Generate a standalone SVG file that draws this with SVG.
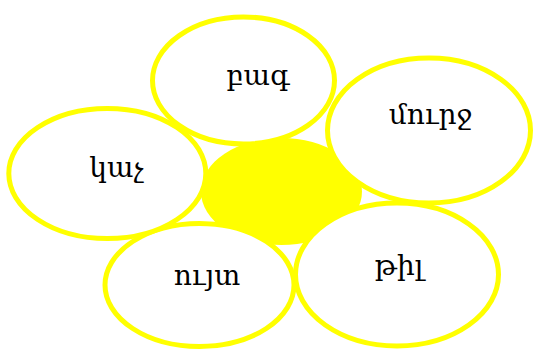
<svg xmlns="http://www.w3.org/2000/svg" width="534" height="349" viewBox="0 0 534 349">
  <style>
    .petal { fill: #ffffff; stroke: #ffff00; stroke-width: 5; }
    .core { fill: #ffff00; stroke: none; }
    .lbl { font-family: "DejaVu Serif", "Noto Sans", serif; font-size: 28px; fill: #000000; text-anchor: middle; }
  </style>
  <rect width="534" height="349" fill="#ffffff"/>
  <g id="center">
    <ellipse class="core" cx="281.5" cy="191.5" rx="80.5" ry="53.5"/>
  </g>
  <g id="petal-top">
    <ellipse class="petal" cx="243.5" cy="80.5" rx="91" ry="63.5"/>
    <text class="lbl" x="258" y="85">բագ</text>
  </g>
  <g id="petal-right">
    <ellipse class="petal" cx="429" cy="130.5" rx="101.5" ry="72.5"/>
    <text class="lbl" x="430.5" y="124">մուրջ</text>
  </g>
  <g id="petal-bottom-right">
    <ellipse class="petal" cx="397" cy="274.5" rx="101.5" ry="71.5"/>
    <text class="lbl" x="399" y="274.5">թիլ</text>
  </g>
  <g id="petal-bottom-left">
    <ellipse class="petal" cx="199.5" cy="285" rx="94.5" ry="61.5"/>
    <text class="lbl" x="207" y="285">ույտ</text>
  </g>
  <g id="petal-left">
    <ellipse class="petal" cx="107.3" cy="173.5" rx="98.5" ry="65"/>
    <text class="lbl" x="116.5" y="177">կաչ</text>
  </g>
  <g id="connectors"></g>
</svg>
